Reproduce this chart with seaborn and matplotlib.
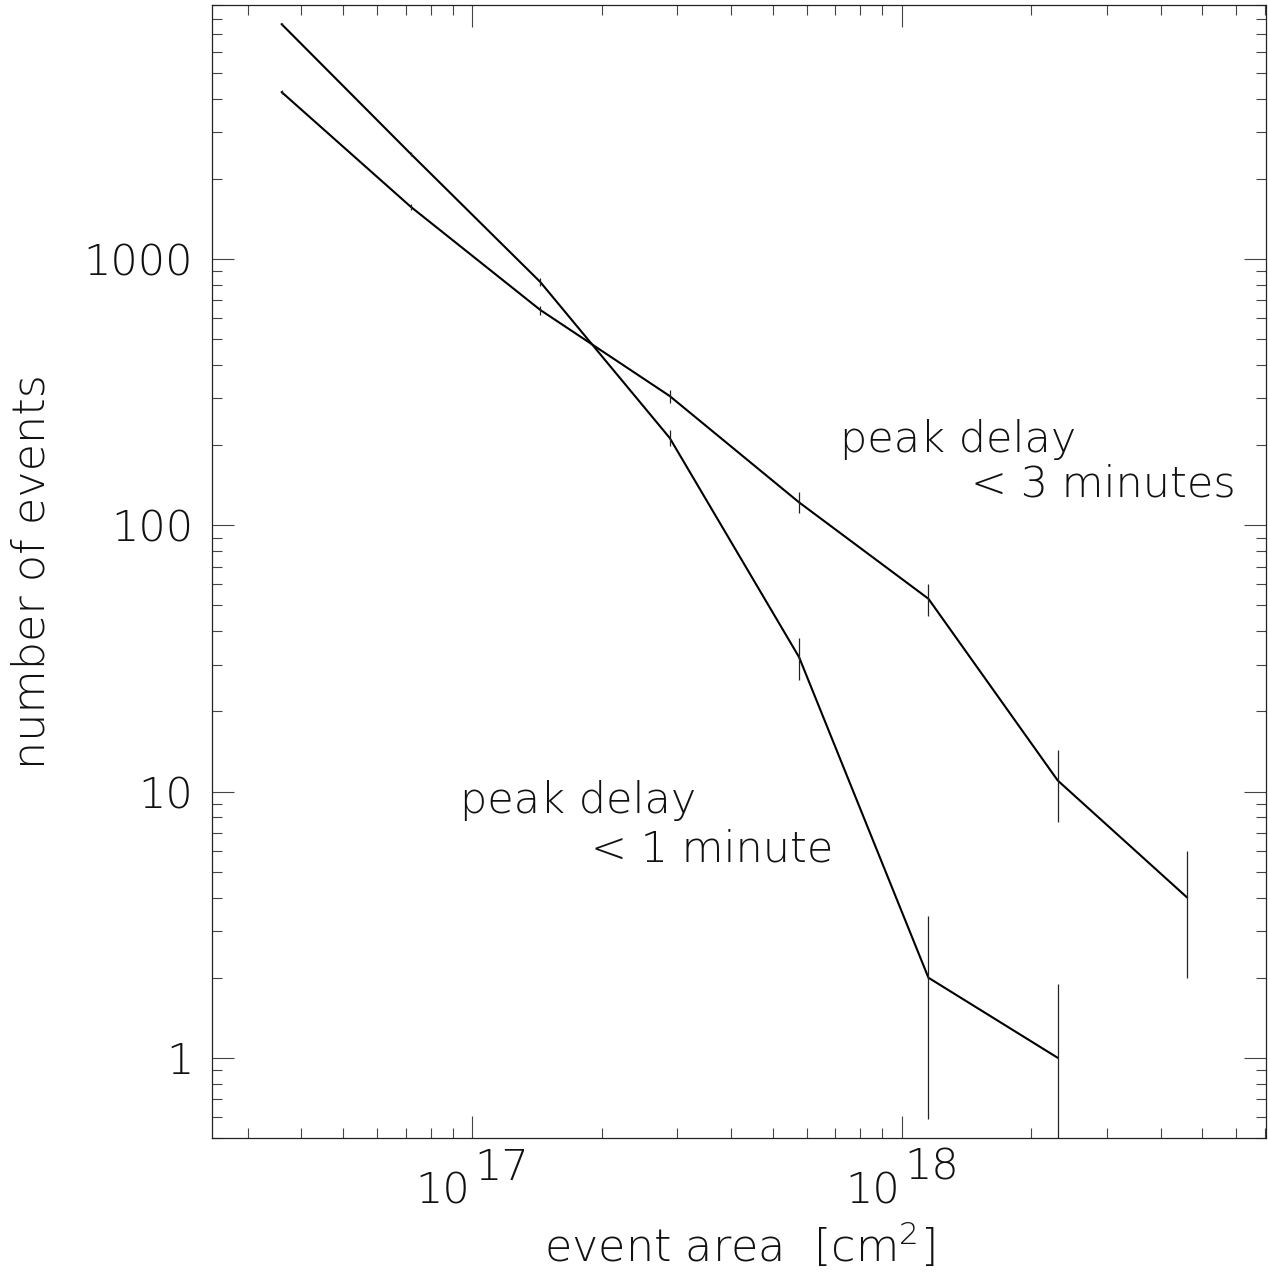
import numpy as np
import pandas as pd
import matplotlib
matplotlib.use("Agg")
import matplotlib.pyplot as plt
from matplotlib import font_manager
from matplotlib.ticker import FixedLocator, FixedFormatter, LogLocator, NullFormatter
import seaborn as sns

# Event area bins [cm^2] (factor-of-two bins)
area_bins = [3.6e16, 7.2e16, 1.44e17, 2.88e17, 5.76e17, 1.152e18, 2.304e18, 4.608e18]

# Number of events with peak delay < 1 minute, with Poisson errors
counts_1min = [7630, 2480, 820, 213, 32, 2, 1]
err_lo_1min = [87, 50, 29, 14.6, 5.7, 1.41, 1.0]
err_hi_1min = [87, 50, 29, 14.6, 5.7, 1.41, 0.9]

# Number of events with peak delay < 3 minutes, with Poisson errors
counts_3min = [4240, 1570, 644, 306, 122, 53, 11, 4]
err_3min = [65, 40, 25, 17.5, 11, 7.3, 3.3, 2.0]

# Axis ticks
x_decades = [17, 18]
y_ticks = [1, 10, 100, 1000]
y_ticklabels = ["1", "10", "100", "1000"]

W, H = 1268, 1278


def pick_font():
    prefs = [("DejaVu Sans", 200), ("Roboto", 300), ("Lato", 300), ("Open Sans", 300)]
    for fam, w in prefs:
        for f in font_manager.fontManager.ttflist:
            try:
                fw = int(f.weight)
            except (TypeError, ValueError):
                continue
            if f.name == fam and fw == w and f.style == "normal":
                return fam, w
    return "DejaVu Sans", "normal"


sns.set_style("ticks")
FAMILY, WEIGHT = pick_font()
plt.rcParams["font.family"] = [FAMILY, "DejaVu Sans"]
plt.rcParams["font.weight"] = WEIGHT
plt.rcParams["axes.labelweight"] = WEIGHT
plt.rcParams["mathtext.default"] = "regular"

FS = 31
TXT = "#111111"

fig = plt.figure(figsize=(W / 100, H / 100), dpi=100)
ax = fig.add_axes([212 / W, 1 - 1138 / H, (1266 - 212) / W, (1138 - 5) / H])

df = pd.concat([
    pd.DataFrame({"area": area_bins[:len(counts_1min)], "count": counts_1min, "delay": "< 1 minute"}),
    pd.DataFrame({"area": area_bins[:len(counts_3min)], "count": counts_3min, "delay": "< 3 minutes"}),
], ignore_index=True)

sns.lineplot(data=df, x="area", y="count", units="delay", estimator=None, sort=False,
             color="black", linewidth=1.5, ax=ax, legend=False)

ax.errorbar(area_bins[:len(counts_1min)], counts_1min, yerr=[err_lo_1min, err_hi_1min],
            fmt="none", ecolor="#222222", elinewidth=0.9, capsize=0)
ax.errorbar(area_bins[:len(counts_3min)], counts_3min, yerr=err_3min,
            fmt="none", ecolor="#222222", elinewidth=0.9, capsize=0)

ax.set_xscale("log")
ax.set_yscale("log")
ax.set_xlim(2.48e16, 7.03e18)
ax.set_ylim(0.5, 9000)

ax.xaxis.set_major_locator(FixedLocator([10.0 ** e for e in x_decades]))
ax.xaxis.set_minor_locator(LogLocator(base=10, subs=np.arange(2, 10), numticks=30))
ax.xaxis.set_major_formatter(NullFormatter())
ax.xaxis.set_minor_formatter(NullFormatter())
ax.yaxis.set_major_locator(FixedLocator(y_ticks))
ax.yaxis.set_major_formatter(FixedFormatter(y_ticklabels))
ax.yaxis.set_minor_locator(LogLocator(base=10, subs=np.arange(2, 10), numticks=30))
ax.yaxis.set_minor_formatter(NullFormatter())

ax.tick_params(which="both", direction="in", top=True, right=True,
               labeltop=False, labelright=False, color="#444444", width=0.8)
ax.tick_params(which="major", length=15.8)
ax.tick_params(which="minor", length=7.2)
ax.tick_params(axis="y", which="major", labelsize=FS, pad=13.5, labelcolor=TXT)

for s in ax.spines.values():
    s.set_linewidth(0.9)
    s.set_color("#222222")

# Power-of-ten labels on the area axis, exponent at full size
for e in x_decades:
    ax.annotate("10", xy=(10.0 ** e, 0), xycoords=("data", "axes fraction"),
                xytext=(-1.5, -47.5), textcoords="offset points",
                ha="right", va="baseline", fontsize=FS, color=TXT)
    ax.annotate(str(e), xy=(10.0 ** e, 0), xycoords=("data", "axes fraction"),
                xytext=(1.5, -30.2), textcoords="offset points",
                ha="left", va="baseline", fontsize=FS, color=TXT)

ax.set_xlabel("event area  [cm$^{2}$]", fontsize=32, color=TXT, va="baseline",
              fontweight=WEIGHT)
ax.xaxis.set_label_coords(0.5, -(1262 - 1138) / (1138 - 5))
ax.set_ylabel("number of events", fontsize=32, color=TXT, va="baseline",
              fontweight=WEIGHT)
ax.yaxis.set_label_coords((45 - 212) / (1266 - 212), 0.5)

# Curve annotations
def fig_text(xc, yb, s):
    fig.text(xc / W, 1 - yb / H, s, ha="center", va="baseline", fontsize=FS,
             color=TXT, fontweight=WEIGHT)

fig_text(958, 452, "peak delay")
fig_text(1103, 497, "< 3 minutes")
fig_text(578, 813, "peak delay")
fig_text(712, 862, "< 1 minute")

fig.savefig("out.png", dpi=100, facecolor="white")
